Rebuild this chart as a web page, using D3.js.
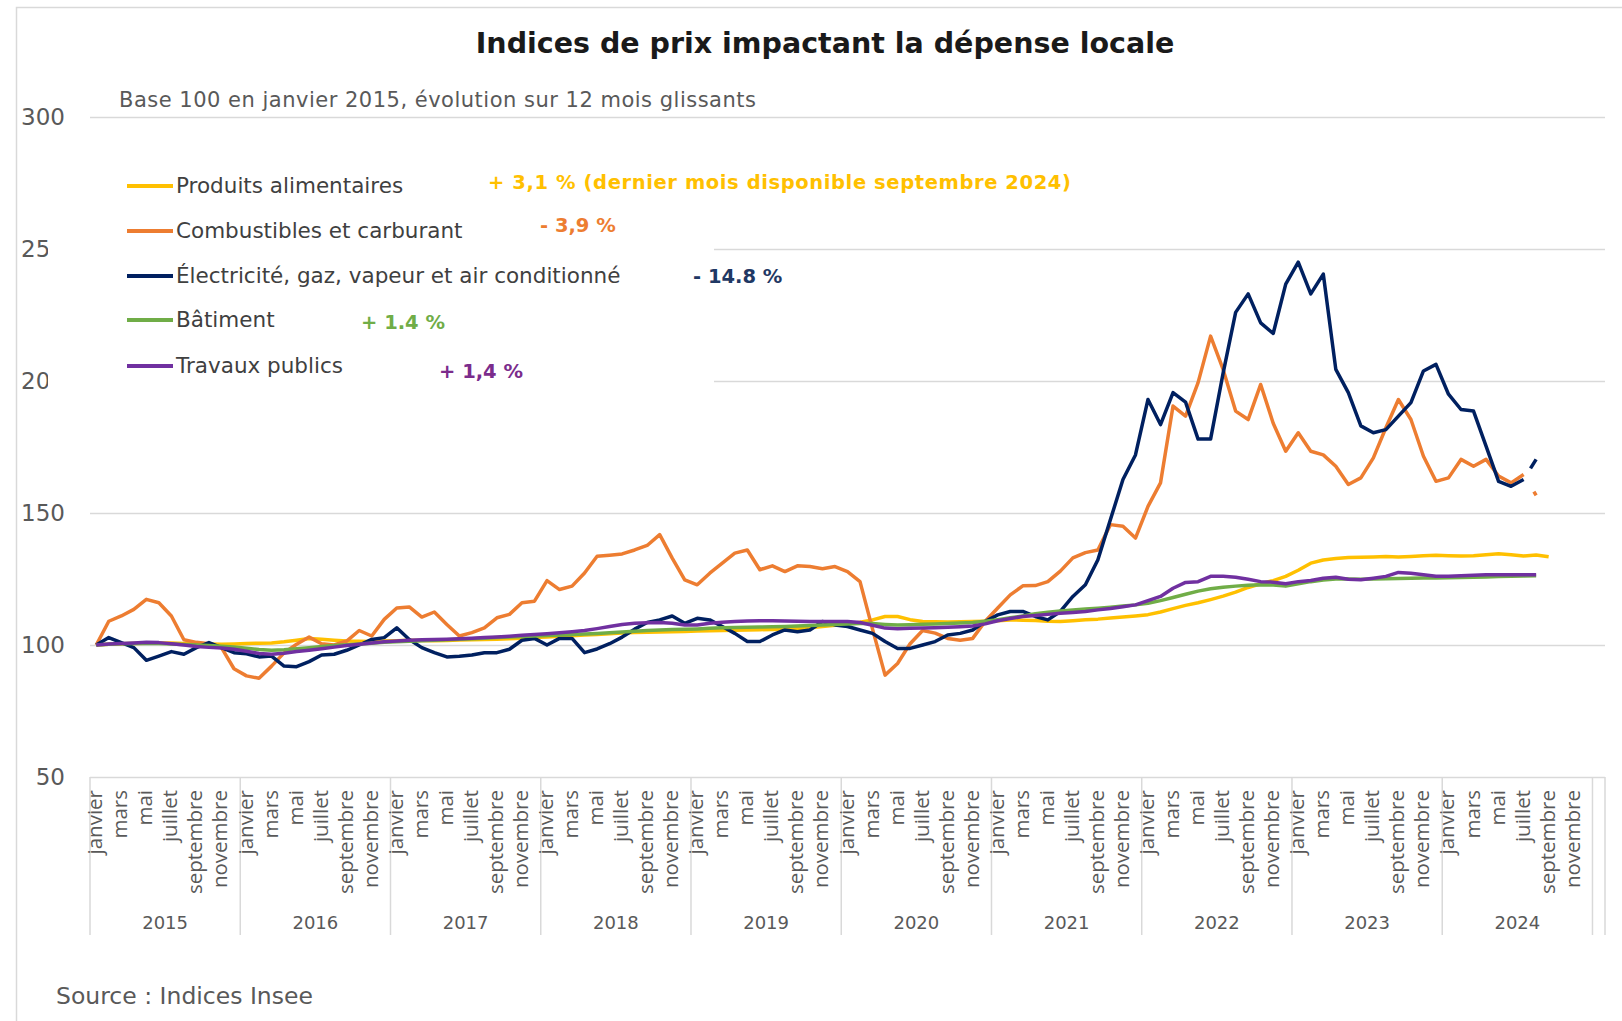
<!DOCTYPE html>
<html>
<head>
<meta charset="utf-8">
<script src="https://cdn.jsdelivr.net/npm/d3@7"></script>
<style>
body { margin: 0; background: #fff; }
text { font-family: "DejaVu Sans", sans-serif; }
</style>
</head>
<body>
<div id="chart"></div>
<script>
var width = 1622, height = 1021;

var years = [2015, 2016, 2017, 2018, 2019, 2020, 2021, 2022, 2023, 2024];
var monthNames = ["janvier", "février", "mars", "avril", "mai", "juin", "juillet", "août", "septembre", "octobre", "novembre", "décembre"];
var yTicks = [50, 100, 150, 200, 250, 300];

// indices mensuels, janvier 2015 = 100
var alimentaires = [
    100, 100.3, 100.5, 100.6, 100.7, 100.8, 100.8, 100.6, 100.5, 100.4, 100.3, 100.4,
    100.6, 100.7, 100.8, 101.2, 101.8, 102.5, 102.2, 101.8, 101.5, 101.4, 101.3, 101.5,
    101.6, 101.8, 101.7, 101.6, 101.7, 101.9, 102, 102.1, 102.2, 102.4, 102.6, 102.8,
    103, 103.3, 103.5, 103.8, 104, 104.3, 104.5, 104.7, 104.8, 104.9, 105, 105.1,
    105.3, 105.4, 105.5, 105.6, 105.7, 105.8, 105.9, 106, 106.2, 106.5, 107, 107.5,
    108, 108.6, 109.5, 110.8, 110.8, 109.6, 108.9, 108.8, 108.7, 108.8, 108.9, 109,
    109.2, 109.5, 109.4, 109.3, 109, 108.9, 109.2, 109.6, 109.8, 110.2, 110.6, 111,
    111.5, 112.5, 113.8, 115, 116, 117.2, 118.5, 120, 121.8, 123.2, 124.4, 126,
    128.3, 131, 132.2, 132.8, 133.1, 133.2, 133.3, 133.5, 133.3, 133.5, 133.8, 134,
    133.8, 133.7, 133.8, 134.2, 134.6, 134.2, 133.7, 134.1, 133.4
];
var combustibles = [
    100, 109, 111, 113.5, 117.3, 116, 111, 102, 101, 100.5, 99, 91,
    88.3, 87.4, 92, 97, 100.3, 103, 100.5, 100, 101.5, 105.5, 103.4, 109.7,
    114, 114.4, 110.6, 112.5, 107.8, 103.4, 104.7, 106.5, 110.3, 111.6, 116, 116.6,
    124.4, 121, 122.3, 127.3, 133.6, 134, 134.5, 136, 137.7, 141.8, 132.9, 124.7,
    122.8, 127.2, 131, 134.8, 136, 128.5, 130, 127.8, 130, 129.7, 128.9, 129.7,
    127.8, 124, 106, 88.6, 93, 100.5, 105.5, 104.5, 102.5, 101.8, 102.5, 109,
    114, 119, 122.4, 122.5, 124, 128, 133, 135, 136, 145.6, 145, 140.5,
    152.5, 161.4, 190.5, 186.7, 199.4, 217, 204.4, 188.6, 185.4, 198.7, 184, 173.4,
    180.4, 173.4, 172, 167.7, 160.8, 163.3, 170.9, 182.3, 193, 185.4, 171.5, 162,
    163.3, 170.3, 167.7, 170.3, 164, 161.4, 164.6, 156.7
];
var electricite = [
    100, 102.8, 100.9, 99, 94.2, 95.8, 97.5, 96.5, 99, 100.9, 99, 97.1,
    96.7, 95.5, 95.8, 92, 91.8, 93.7, 96.2, 96.5, 98, 100, 102.1, 102.8,
    106.5, 102.1, 99, 97.1, 95.5, 95.7, 96.2, 97.1, 97.1, 98.4, 101.8, 102.5,
    100, 102.5, 102.5, 97.1, 98.5, 100.5, 103, 106, 108.5, 109.5, 111, 108.2,
    110.1, 109.5, 107, 104.4, 101.3, 101.3, 103.8, 105.7, 105, 105.7, 108.9, 107.6,
    107, 105.7, 104.4, 101.3, 98.7, 98.7, 100, 101.3, 103.8, 104.4, 105.7, 108.9,
    111.4, 112.7, 112.7, 110.8, 109.5, 112.7, 118.4, 122.8, 132.3, 147.5, 162.7, 172,
    193, 183.5, 195.6, 192, 178, 178, 203, 226, 233, 222, 218, 236.7,
    245, 233, 240.5, 204.4, 195.6, 183, 180.4, 181.6, 186.7, 191.8, 203.8, 206.3,
    195, 189.2, 188.6, 175.3, 162, 160.1, 162.7, 170.3
];
var batiment = [
    100, 100.3, 100.5, 100.6, 100.7, 100.6, 100.4, 100.2, 100, 99.8, 99.5, 99.2,
    98.8, 98.3, 98, 98.2, 98.6, 99, 99.4, 99.8, 100.1, 100.4, 100.7, 101,
    101.2, 101.4, 101.6, 101.8, 102, 102.2, 102.4, 102.6, 102.8, 103, 103.2, 103.4,
    103.6, 103.8, 104, 104.2, 104.4, 104.6, 104.9, 105.2, 105.5, 105.7, 105.9, 106,
    106.1, 106.3, 106.5, 106.6, 106.7, 106.8, 106.9, 107, 107.2, 107.4, 107.6, 107.8,
    108, 108.1, 108.1, 107.8, 107.6, 107.7, 107.9, 108, 108.1, 108.3, 108.5, 109,
    109.6, 110.3, 111, 111.8, 112.4, 112.9, 113.3, 113.6, 113.9, 114.3, 114.8, 115.2,
    115.8, 116.8, 118, 119.2, 120.4, 121.3, 121.9, 122.3, 122.6, 122.8, 122.7, 122.3,
    123.2, 124, 124.6, 125, 125, 124.9, 125, 125.1, 125.2, 125.3, 125.4, 125.4,
    125.5, 125.6, 125.7, 125.8, 125.9, 126, 126.1, 126.2
];
var travauxPublics = [
    100, 100.4, 100.6, 100.8, 101, 100.9, 100.5, 100, 99.4, 99.1, 98.9, 98.4,
    97.6, 96.8, 96.5, 96.9, 97.5, 98, 98.6, 99.2, 99.8, 100.3, 100.8, 101.2,
    101.5, 101.8, 102, 102.1, 102.2, 102.4, 102.6, 102.8, 103, 103.3, 103.7, 104,
    104.3, 104.6, 105, 105.5, 106.2, 107, 107.8, 108.2, 108.4, 108.5, 108.2, 107.6,
    107.6, 108.2, 108.6, 108.9, 109.1, 109.2, 109.2, 109.1, 109, 108.9, 108.9, 108.9,
    108.9, 108.5, 107.5, 106.4, 106.2, 106.3, 106.4, 106.5, 106.7, 106.9, 107.2, 108,
    109.2, 110, 110.8, 111.2, 111.6, 112, 112.3, 112.7, 113.3, 113.8, 114.5, 115.2,
    116.8, 118.4, 121.5, 123.7, 124, 126, 126, 125.7, 124.9, 124, 123.8, 123.2,
    124, 124.4, 125.3, 125.7, 124.9, 124.7, 125.3, 126, 127.5, 127.2, 126.6, 126,
    126, 126.2, 126.4, 126.6, 126.6, 126.6, 126.6, 126.6
];

var legendLabels = ["Produits alimentaires", "Combustibles et carburant", "Électricité, gaz, vapeur et air conditionné", "Bâtiment", "Travaux publics"];
var notes = ["+ 3,1 % (dernier mois disponible septembre 2024)", "- 3,9 %", "- 14.8 %", "+ 1.4 %", "+ 1,4 %"];

// one slot per month, plus an empty slot closing the axis
var categories = [];
years.forEach(function (yr) {
    monthNames.forEach(function (m) { categories.push(m + " " + yr); });
});
categories.push("");

var series = [
    {values: alimentaires, color: "#ffc000", note: 0, dashTail: false},
    {values: combustibles, color: "#ed7d31", note: 1, dashTail: true},
    {values: electricite, color: "#002060", note: 2, dashTail: true},
    {values: batiment, color: "#70ad47", note: 3, dashTail: false},
    {values: travauxPublics, color: "#7030a0", note: 4, dashTail: false}
];
var noteColors = ["#ffc000", "#ed7d31", "#1f3864", "#70ad47", "#7b2c8c"];

var margin = {left: 90, right: 17, top: 117, bottom: 244};

var svg = d3.select("#chart").append("svg")
    .attr("width", width)
    .attr("height", height);

svg.append("rect")
    .attr("x", 16.5).attr("y", 7.5)
    .attr("width", width).attr("height", height)
    .attr("fill", "#fff")
    .attr("stroke", "#d9d9d9")
    .attr("stroke-width", 1.5);

var x = d3.scaleBand()
    .domain(d3.range(categories.length))
    .range([margin.left, width - margin.right]);
var y = d3.scaleLinear()
    .domain([50, 300])
    .range([height - margin.bottom, margin.top]);

var cx = function (i) { return x(i) + x.bandwidth() / 2; };

// grid + y labels
var yAxis = svg.append("g")
    .attr("transform", "translate(" + margin.left + ",0)")
    .call(d3.axisLeft(y).tickValues(yTicks).tickSize(-(width - margin.right - margin.left)).tickPadding(25));
yAxis.select(".domain").remove();
yAxis.selectAll("line").attr("stroke", "#d9d9d9").attr("stroke-width", 1.5);
yAxis.selectAll("text")
    .attr("fill", "#595959")
    .style("font-family", "'DejaVu Sans', sans-serif")
    .style("font-size", "23px");

// x axis: month labels, year groups
var axisY = y(50);
var bounds = years.map(function (yr, k) { return x(k * 12); });
bounds.push(x(years.length * 12));
bounds.push(width - margin.right);

svg.append("g").selectAll("line")
    .data(bounds)
    .join("line")
    .attr("x1", function (d) { return d; })
    .attr("x2", function (d) { return d; })
    .attr("y1", axisY)
    .attr("y2", axisY + 158)
    .attr("stroke", "#d9d9d9")
    .attr("stroke-width", 1.5);

var monthIdx = d3.range(years.length * 12).filter(function (i) { return i % 2 === 0; });
svg.append("g").selectAll("text")
    .data(monthIdx)
    .join("text")
    .attr("transform", function (i) { return "translate(" + (cx(i) + 6) + "," + (axisY + 13) + ") rotate(-90)"; })
    .attr("text-anchor", "end")
    .attr("fill", "#595959")
    .style("font-family", "'Open Sans', sans-serif")
    .style("font-size", "20.5px")
    .text(function (i) { return monthNames[i % 12]; });

svg.append("g").selectAll("text")
    .data(years)
    .join("text")
    .attr("x", function (yr, k) { return (x(k * 12) + x(k * 12 + 11) + x.bandwidth()) / 2; })
    .attr("y", axisY + 152)
    .attr("text-anchor", "middle")
    .attr("fill", "#595959")
    .style("font-size", "18px")
    .text(function (yr) { return yr; });

// legend panel (covers part of the grid)
svg.append("rect")
    .attr("x", 48).attr("y", 126)
    .attr("width", 666).attr("height", 274)
    .attr("fill", "#fff");

var legendRows = [186, 231, 276, 320, 366];
var notePos = [[488, 189], [540, 232], [693, 283], [361, 329], [439, 378]];

var legend = svg.append("g");
series.forEach(function (s, k) {
    legend.append("line")
        .attr("x1", 127).attr("x2", 173)
        .attr("y1", legendRows[k]).attr("y2", legendRows[k])
        .attr("stroke", s.color)
        .attr("stroke-width", 4);
    legend.append("text")
        .attr("x", 176)
        .attr("y", legendRows[k] + 7)
        .attr("fill", "#404040")
        .style("font-size", "21.5px")
        .text(legendLabels[k]);
    legend.append("text")
        .attr("x", notePos[s.note][0])
        .attr("y", notePos[s.note][1])
        .attr("fill", noteColors[s.note])
        .style("font-size", "19.5px")
        .style("font-weight", "bold")
        .style("letter-spacing", s.note === 0 ? "0.6px" : "0px")
        .text(notes[s.note]);
});

// series
var line = d3.line()
    .defined(function (d) { return d != null; })
    .x(function (d, i) { return cx(i); })
    .y(function (d) { return y(d); });

series.forEach(function (s) {
    var n = s.values.length;
    var solid = s.dashTail ? s.values.slice(0, n - 1) : s.values;
    svg.append("path")
        .datum(solid)
        .attr("fill", "none")
        .attr("stroke", s.color)
        .attr("stroke-width", 3.5)
        .attr("stroke-linejoin", "round")
        .attr("d", line);
    if (s.dashTail) {
        var tail = s.values.map(function (v, i) { return i >= n - 2 ? v : null; });
        svg.append("path")
            .datum(tail)
            .attr("fill", "none")
            .attr("stroke", s.color)
            .attr("stroke-width", 3.5)
            .attr("stroke-dasharray", s.note === 2 ? "0,13,30" : "0,20,30")
            .attr("d", line);
    }
});

// titles
svg.append("text")
    .attr("x", 825)
    .attr("y", 53)
    .attr("text-anchor", "middle")
    .attr("fill", "#1a1a1a")
    .style("font-size", "28.5px")
    .style("font-weight", "bold")
    .text("Indices de prix impactant la dépense locale");

svg.append("text")
    .attr("x", 119)
    .attr("y", 107)
    .attr("fill", "#595959")
    .style("font-size", "21px")
    .style("letter-spacing", "0.5px")
    .text("Base 100 en janvier 2015, évolution sur 12 mois glissants");

svg.append("text")
    .attr("x", 56)
    .attr("y", 1004)
    .attr("fill", "#595959")
    .style("font-size", "23.5px")
    .text("Source : Indices Insee");
</script>
</body>
</html>
